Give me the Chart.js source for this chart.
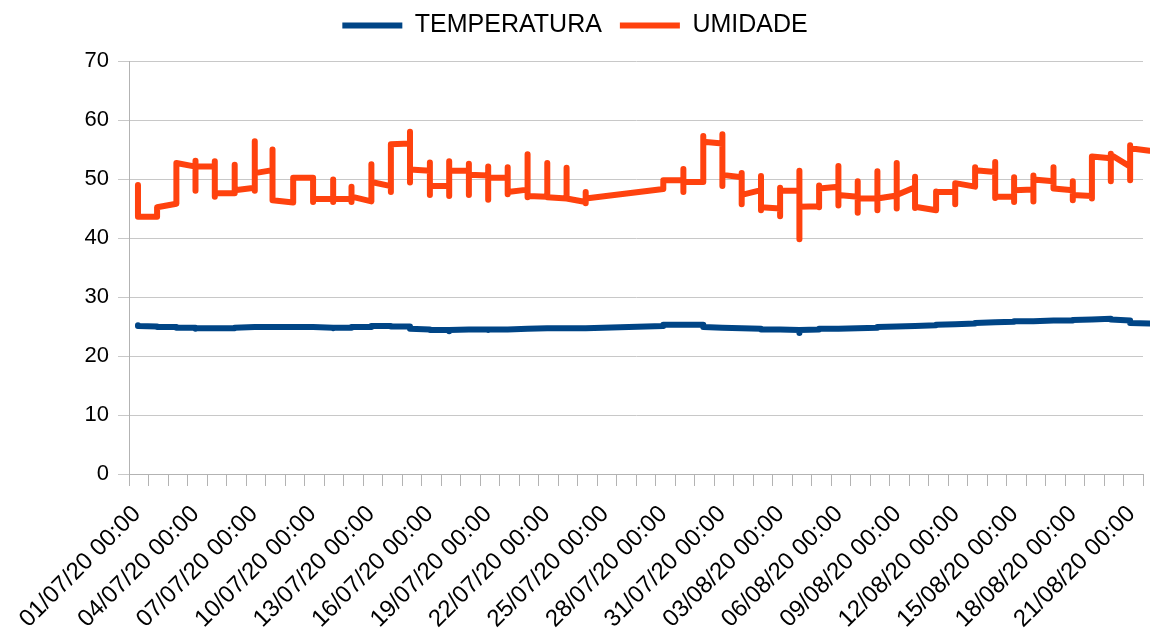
<!DOCTYPE html>
<html>
<head>
<meta charset="utf-8">
<script src="https://cdn.jsdelivr.net/npm/chart.js@4/dist/chart.umd.min.js"></script>
<style>
  body { margin: 0; background: #fff; }
  #caixa { width: 1150px; height: 628px; }
</style>
</head>
<body>
<div id="caixa"><canvas id="grafico"></canvas></div>
<script>
// rótulos do eixo X (a cada 3 dias)
const rotulos = ['01/07/20 00:00', '04/07/20 00:00', '07/07/20 00:00', '10/07/20 00:00',
    '13/07/20 00:00', '16/07/20 00:00', '19/07/20 00:00', '22/07/20 00:00', '25/07/20 00:00',
    '28/07/20 00:00', '31/07/20 00:00', '03/08/20 00:00', '06/08/20 00:00', '09/08/20 00:00',
    '12/08/20 00:00', '15/08/20 00:00', '18/08/20 00:00', '21/08/20 00:00'];

// instante de cada grupo de leituras (dias desde 01/07/20 00:00)
const dias = [0.46, 1.44, 2.43, 3.41, 4.40, 5.42, 6.45, 7.36, 8.42, 9.44, 10.47, 11.41,
    12.43, 13.43, 14.41, 15.43, 16.42, 17.43, 18.42, 19.42, 20.44, 21.45, 22.44, 23.42,
    27.40, 28.43, 29.45, 30.43, 31.42, 32.41, 33.39, 34.38, 35.39, 36.38, 37.37, 38.38,
    39.37, 40.31, 41.39, 42.37, 43.39, 44.42, 45.39, 46.38, 47.41, 48.40, 49.38, 50.35,
    51.34, 52.33];

// leituras de temperatura em cada grupo
const temperatura = [
    [25.2, 25.1], [25.0, 24.9], [24.9, 24.8], [24.8, 24.6, 24.7], [24.7], [24.7, 24.8],
    [24.9], [24.9], [24.9], [24.9], [24.8, 24.7, 24.8], [24.8, 24.9],
    [24.9, 25.1], [25.1, 25.0], [25.0, 24.6], [24.5, 24.4], [24.4, 24.2, 24.4], [24.5],
    [24.5, 24.4, 24.5], [24.5], [24.6], [24.7], [24.7], [24.7],
    [25.1, 25.3], [25.3], [25.3, 24.9], [24.8], [24.7], [24.6, 24.5],
    [24.5], [24.4, 23.9, 24.4], [24.5, 24.6], [24.6], [24.7], [24.8, 24.9],
    [25.0], [25.1], [25.2, 25.3], [25.4], [25.5, 25.6], [25.7],
    [25.8, 25.9], [25.9], [26.0], [26.0, 26.1], [26.2], [26.3, 26.2],
    [26.0, 25.6], [25.5]
];

// leituras de umidade em cada grupo
const umidade = [
    [49.0, 43.6], [43.6, 45.2], [45.8, 52.7], [52.1, 53.1, 48.0, 52.1], [52.1, 53.0, 47.0, 47.6],
    [47.6, 52.4, 48.1], [48.5, 56.4, 48.0, 51.0], [51.5, 55.0, 46.4], [46.0, 50.2],
    [50.2, 46.1, 46.6], [46.6, 49.9, 46.1, 46.6], [46.6, 48.7, 46.1, 47.0], [46.2, 52.5, 49.5],
    [48.8, 47.8, 55.9], [56.0, 58.0, 49.4, 51.6], [51.4, 52.8, 47.3, 48.8], [48.8, 47.1, 53.0, 51.4],
    [51.4, 52.6, 47.3, 50.7], [50.6, 52.1, 46.5, 50.2], [50.2, 52.0, 47.4, 47.8],
    [48.2, 54.2, 46.9, 47.1], [47.0, 52.7, 46.9], [46.7, 51.9, 46.7], [46.1, 47.8, 45.9, 46.7],
    [48.3, 49.8], [49.8, 51.7, 47.8, 49.5], [49.5, 57.3, 56.3], [56.0, 57.6, 48.8, 50.7],
    [50.3, 51.0, 45.7, 47.3], [48.1, 50.5, 44.7, 45.2], [45.0, 43.7, 48.5, 48.0],
    [48.0, 51.4, 39.8, 45.3], [45.4, 45.2, 48.9, 48.4], [48.7, 52.2, 45.5, 47.3],
    [47.0, 49.6, 44.3, 46.7], [46.7, 51.3, 44.7, 46.7], [47.2, 52.7, 45.0, 47.3],
    [48.6, 50.4, 45.1, 45.3], [44.7, 47.9, 47.8], [47.8, 45.7, 49.3], [48.7, 52.0, 51.5],
    [51.2, 52.9, 46.8, 47.0], [47.0, 50.3, 46.1, 48.1], [48.2, 50.6, 46.2, 49.9],
    [49.6, 52.0, 48.4], [48.1, 49.6, 46.4, 47.3], [47.1, 46.7, 53.8], [53.5, 54.3, 49.6, 54.1],
    [52.1, 49.8, 55.7, 55.2], [54.8, 53.0]
];

// transforma os grupos em pontos {x, y}
function pontos(grupos) {
    const lista = [];
    grupos.forEach((valores, i) => {
        valores.forEach(v => lista.push({ x: dias[i], y: v }));
    });
    return lista;
}

const fonte = 'Liberation Sans, Arial, sans-serif';

// sobe a legenda depois do layout
const subirLegenda = {
    id: 'subirLegenda',
    afterLayout(chart) {
        chart.legend.top -= 13;
        chart.legend.bottom -= 13;
    }
};

window.onload = function () {
    const ctx = document.getElementById('grafico').getContext('2d');
    new Chart(ctx, {
        type: 'line',
        data: {
            datasets: [{
                label: 'TEMPERATURA',
                data: pontos(temperatura),
                borderColor: '#004586',
                backgroundColor: '#004586',
                borderWidth: 6,
                pointRadius: 0,
                borderCapStyle: 'round',
                borderJoinStyle: 'round',
                clip: false
            }, {
                label: 'UMIDADE',
                data: pontos(umidade),
                borderColor: '#ff420e',
                backgroundColor: '#ff420e',
                borderWidth: 6,
                pointRadius: 0,
                borderCapStyle: 'round',
                borderJoinStyle: 'round',
                clip: false
            }]
        },
        plugins: [subirLegenda],
        options: {
            responsive: true,
            maintainAspectRatio: false,
            animation: false,
            layout: { padding: 0 },
            plugins: {
                tooltip: { enabled: false },
                legend: {
                    position: 'top',
                    labels: {
                        font: { family: fonte, size: 25 },
                        color: '#000',
                        boxWidth: 60,
                        boxHeight: 6,
                        padding: 18,
                        generateLabels: function (chart) {
                            const itens = Chart.defaults.plugins.legend.labels.generateLabels(chart);
                            itens.forEach(item => { item.lineWidth = 0; });
                            return itens;
                        }
                    }
                }
            },
            scales: {
                x: {
                    type: 'linear',
                    min: 0,
                    max: 52,
                    afterFit: function (escala) {
                        escala.height = 154;
                        escala.paddingLeft = 0;
                        escala.paddingRight = 7;
                    },
                    border: { color: '#b3b3b3', width: 1 },
                    grid: { drawOnChartArea: false, tickLength: 12, color: '#b3b3b3' },
                    ticks: {
                        stepSize: 1,
                        autoSkip: false,
                        minRotation: 45,
                        maxRotation: 45,
                        padding: 14,
                        labelOffset: 8,
                        color: '#000',
                        font: { family: fonte, size: 24 },
                        callback: function (valor) {
                            return valor % 3 === 0 ? rotulos[valor / 3] : '';
                        }
                    }
                },
                y: {
                    min: 0,
                    max: 70,
                    afterFit: function (escala) {
                        escala.width = 129;
                        escala.paddingTop = 61;
                    },
                    border: { color: '#b3b3b3', width: 1 },
                    grid: { color: '#c8c8c8', tickLength: 11 },
                    ticks: {
                        stepSize: 10,
                        padding: 9,
                        color: '#000',
                        font: { family: fonte, size: 22 }
                    }
                }
            }
        }
    });
};
</script>
</body>
</html>
